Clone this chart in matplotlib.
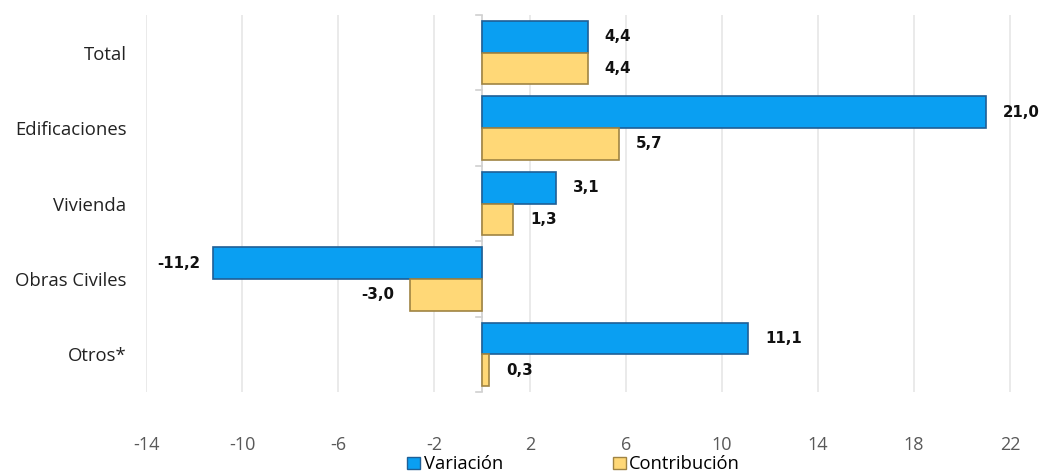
import numpy as np
import matplotlib.pyplot as plt
from matplotlib.patches import Patch

categories = ['Total', 'Edificaciones', 'Vivienda', 'Obras Civiles', 'Otros*']
variacion = [4.4, 21.0, 3.1, -11.2, 11.1]
contribucion = [4.4, 5.7, 1.3, -3.0, 0.3]
xticks = [-14, -10, -6, -2, 2, 6, 10, 14, 18, 22]

blue = '#0a9ff2'
blue_edge = '#1f5f96'
yellow = '#ffd877'
yellow_edge = '#a08443'

fig = plt.figure(figsize=(10.43, 4.72), dpi=100)
ax = fig.add_axes([0.14, 0.1695, 0.86, 0.7987])

y = np.arange(len(categories))
h = 0.42
ax.barh(y - h / 2, variacion, height=h, color=blue, edgecolor=blue_edge, linewidth=1.2, zorder=3)
ax.barh(y + h / 2, contribucion, height=h, color=yellow, edgecolor=yellow_edge, linewidth=1.2, zorder=3)

# value labels
def fmt(v):
    return f'{v:.1f}'.replace('.', ',')

for yi, v in zip(y - h / 2, variacion):
    off = 0.7 if v >= 0 else -0.55
    ax.text(v + off, yi, fmt(v), ha='left' if v >= 0 else 'right', va='center',
            fontsize=10.8, fontweight='bold', family='DejaVu Sans', color='#111111')
for yi, v in zip(y + h / 2, contribucion):
    off = 0.7 if v >= 0 else -0.65
    ax.text(v + off, yi, fmt(v), ha='left' if v >= 0 else 'right', va='center',
            fontsize=10.8, fontweight='bold', family='DejaVu Sans', color='#111111')

ax.set_xlim(-14, 23.375)
ax.set_ylim(len(categories) - 0.5, -0.5)
ax.set_xticks(xticks)
ax.set_xticklabels([str(t) for t in xticks], color='#595959', fontsize=13, family='Open Sans')
ax.tick_params(axis='x', length=0, pad=31.5)
ax.set_yticks(y)
ax.set_yticklabels(categories, fontsize=13.3, family='Open Sans', color='#222222')
ax.tick_params(axis='y', length=0, pad=14)

ax.grid(axis='x', color='#e6e6e6', linewidth=1.2, zorder=0)
for s in ax.spines.values():
    s.set_visible(False)

# zero axis with small category ticks
ax.axvline(0, color='#d0d0d0', linewidth=1.2, zorder=2)
for b in np.arange(-0.5, len(categories), 1):
    ax.plot([-0.25, 0], [b, b], color='#d0d0d0', linewidth=1.2, zorder=2, clip_on=False)

handles = [Patch(facecolor=blue, edgecolor=blue_edge, label='Variación'),
           Patch(facecolor=yellow, edgecolor=yellow_edge, label='Contribución')]
fig.legend(handles=handles, loc='center', bbox_to_anchor=(0.55, 0.016), ncol=2,
           frameon=False, prop={'family': 'Open Sans', 'size': 13.2},
           handlelength=0.7, handleheight=0.7, handletextpad=0.2, columnspacing=6.0)

fig.savefig('out.png', dpi=100)
